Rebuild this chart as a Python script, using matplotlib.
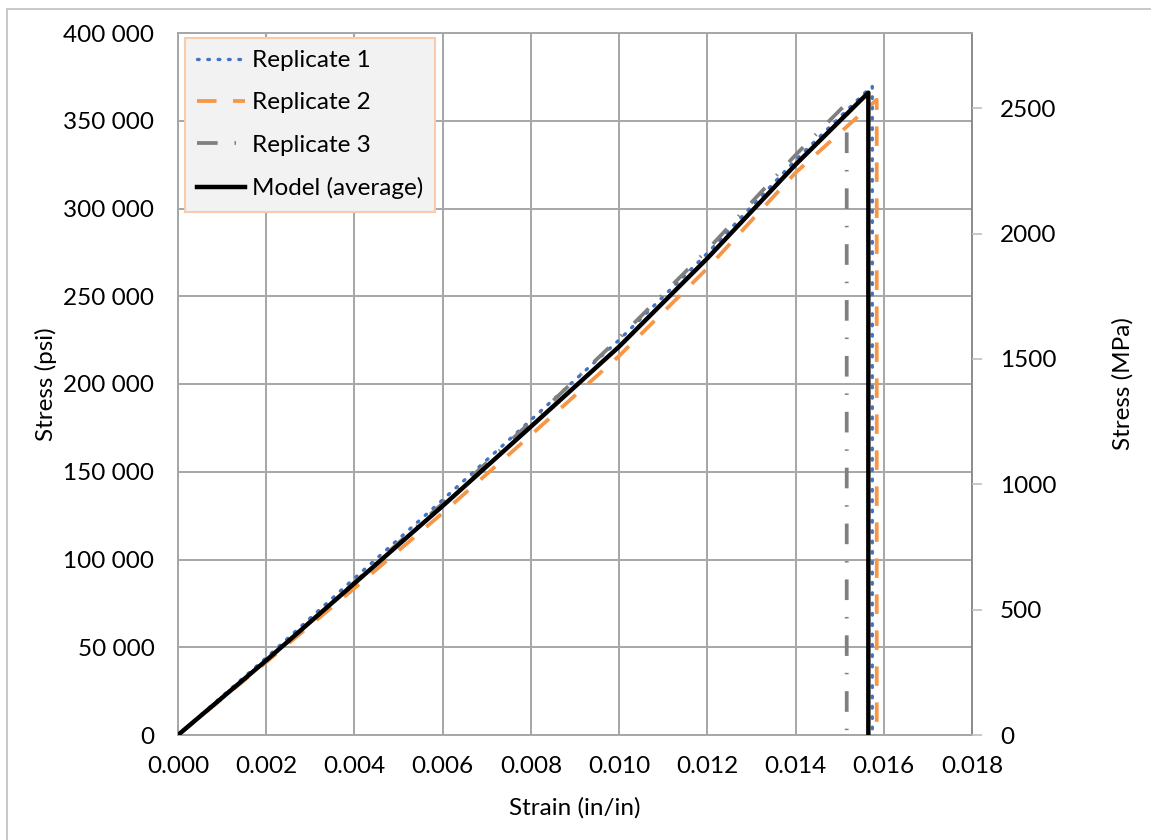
import matplotlib.pyplot as plt
from matplotlib.patches import Rectangle
from matplotlib.ticker import FuncFormatter

plt.rcParams['font.family'] = ['Lato', 'DejaVu Sans']

# strain (in/in) and stress (psi) for each specimen, last point = fracture drop
rep1_strain = [0, 0.002, 0.004, 0.006, 0.008, 0.010, 0.012, 0.014, 0.01572, 0.01574, 0.01574]
rep1_stress = [0, 44000, 89300, 134000, 179500, 225100, 274500, 327600, 369500, 369500, 0]

rep2_strain = [0, 0.002, 0.004, 0.006, 0.008, 0.010, 0.012, 0.014, 0.01584, 0.01584]
rep2_stress = [0, 41500, 83600, 126500, 170900, 216000, 265900, 320400, 362000, 0]

rep3_strain = [0, 0.002, 0.004, 0.006, 0.008, 0.010, 0.012, 0.014, 0.01516, 0.01516]
rep3_stress = [0, 42500, 87000, 132000, 178500, 226200, 276400, 330500, 360000, 0]

model_strain = [0, 0.002, 0.004, 0.006, 0.008, 0.010, 0.012, 0.014, 0.01565, 0.01565]
model_stress = [0, 42500, 86400, 130500, 175700, 221300, 271600, 325000, 366000, 0]

labels = ['Replicate 1', 'Replicate 2', 'Replicate 3', 'Model (average)']
psi_ticks = list(range(0, 400001, 50000))
mpa_ticks = [0, 500, 1000, 1500, 2000, 2500]
strain_ticks = [0.000, 0.002, 0.004, 0.006, 0.008, 0.010, 0.012, 0.014, 0.016, 0.018]

FS = 17.5
fig = plt.figure(figsize=(11.51, 8.4), dpi=100)
ax = fig.add_axes([178 / 1151, 1 - 735 / 840, 794 / 1151, 702 / 840])

grid_col = '#A6A6A6'
ax.plot(rep1_strain, rep1_stress, color='#4472C4', lw=2.4, linestyle=(0, (0.5, 2.6)),
        dash_capstyle='round', label=labels[0], zorder=3)
ax.plot(rep2_strain, rep2_stress, color='#F79646', lw=2.7, linestyle=(0, (5.2, 4.4)),
        label=labels[1], zorder=3)
ax.plot(rep3_strain, rep3_stress, color='#7F7F7F', lw=2.7, linestyle=(0, (5.5, 4.5, 0.4, 4.5)),
        label=labels[2], zorder=3)
ax.plot(model_strain, model_stress, color='black', lw=3.2, label=labels[3], zorder=4)

ax.set_xlim(0, 0.018)
ax.set_ylim(0, 400000)
ax.set_xticks(strain_ticks)
ax.set_yticks(psi_ticks)
ax.xaxis.set_major_formatter(FuncFormatter(lambda v, p: f'{v:.3f}'))
ax.yaxis.set_major_formatter(FuncFormatter(lambda v, p: f'{int(v):,}'.replace(',', ' ')))
ax.grid(True, color=grid_col, lw=1.4)
ax.set_axisbelow(True)
ax.tick_params(axis='y', length=0, labelsize=FS, pad=17)
ax.tick_params(axis='x', length=0, labelsize=FS, pad=15)
for s in ax.spines.values():
    s.set_color(grid_col)
    s.set_linewidth(1.4)
ax.spines['right'].set_color('#8C8C8C')

ax.set_xlabel('Strain (in/in)', fontsize=FS)
ax.set_ylabel('Stress (psi)', fontsize=FS)
ax.xaxis.set_label_coords(0.5, -0.088)
ax.yaxis.set_label_coords(-0.153, 0.5)

ax2 = ax.twinx()
ax2.set_ylim(0, 2800)
ax2.set_yticks(mpa_ticks)
ax2.tick_params(length=7, width=1.2, color='#BFBFBF', labelsize=FS, pad=13)
for s in ax2.spines.values():
    s.set_visible(False)
ax2.set_ylabel('Stress (MPa)', fontsize=FS)
ax2.yaxis.set_label_coords(1.177, 0.5)

leg = ax.legend(loc='upper left', bbox_to_anchor=(0.009, 0.993), fontsize=FS,
                frameon=True, fancybox=False, handlelength=1.95, handletextpad=0.3,
                borderpad=0.5, labelspacing=0.88, borderaxespad=0)
leg.get_frame().set_facecolor('#F2F2F2')
leg.get_frame().set_edgecolor('#F8CBAD')
leg.get_frame().set_linewidth(1.5)
leg.get_frame().set_alpha(1)
leg.set_zorder(10)

# outer chart border
fig.patches.append(Rectangle((7 / 1151, -0.1), 1.2, 1 - 9 / 840 + 0.1, transform=fig.transFigure,
                             fill=False, edgecolor='#BFBFBF', lw=1.2))

fig.savefig('out.png', dpi=100)
